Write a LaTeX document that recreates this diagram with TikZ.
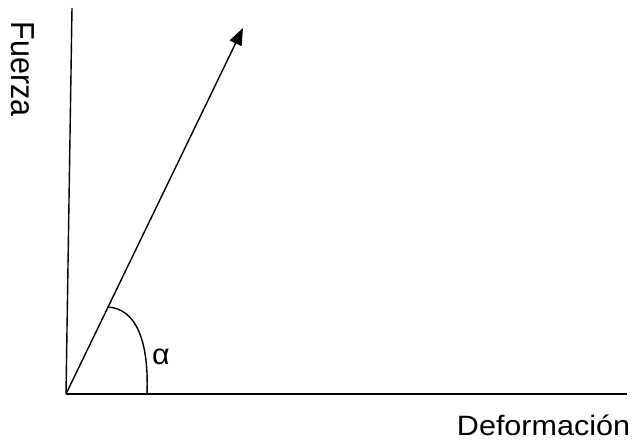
\documentclass[tikz,border=0pt]{standalone}
\usepackage{fontspec}
\setmainfont{Liberation Sans}
\usetikzlibrary{arrows.meta}
\begin{document}
\begin{tikzpicture}[x=1pt,y=-1pt,
  axis/.style={line width=1.4pt},
  lbl/.style={inner sep=0pt,anchor=base}]
\useasboundingbox (0,0) rectangle (635,441);
\coordinate (O) at (66,394);
\coordinate (Ytop) at (72,8);
\coordinate (Xend) at (627,394);
\coordinate (tip) at (243,28);
\coordinate (A) at (107,307);
\coordinate (B) at (147,394);
\draw[axis] (O) -- (Ytop);
\draw[axis] (O) -- (Xend);
\draw[axis,-{Triangle[length=17pt,width=13pt]}] (O) -- (tip);
\draw[axis] (A) .. controls (137,308) and (149,343) .. (B);
\node[lbl,font=\fontsize{29}{32}\selectfont] (alpha) at (161,364) {\scalebox{1.05}[1]{α}};
\node[lbl,rotate=-90,font=\fontsize{30.5}{34}\selectfont] (fuerza) at (12,69) {\scalebox{1}[1.09]{Fuerza}};
\node[lbl,font=\fontsize{28}{32}\selectfont] (def) at (543.5,435.5) {\scalebox{1.09}[1]{Deformación}};
\end{tikzpicture}
\end{document}
